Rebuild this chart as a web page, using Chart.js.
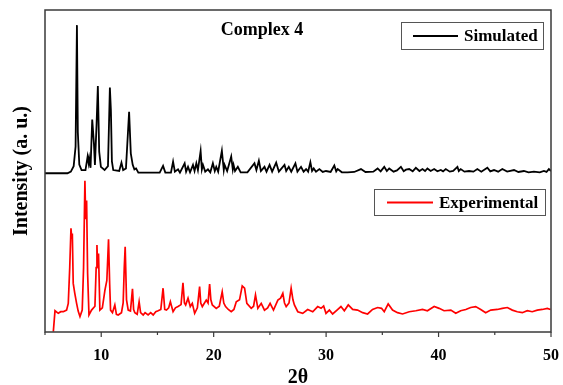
<!DOCTYPE html>
<html>
<head>
<meta charset="utf-8">
<script src="https://cdn.jsdelivr.net/npm/chart.js@4"></script>
<style>
  html, body { margin: 0; padding: 0; background: #ffffff; }
  #wrap { width: 563px; height: 385px; }
</style>
</head>
<body>
<div id="wrap"><canvas id="c" width="563" height="385"></canvas></div>
<script>
// ---- data (2θ, intensity in arbitrary units) ----
const simTwoTheta = [5.0,7.0,7.3,7.55,7.72,7.84,7.92,8.05,8.25,8.6,8.79,8.88,8.93,9.05,9.2,9.35,9.44,9.59,9.7,9.82,9.97,10.3,10.6,10.77,10.86,10.95,11.07,11.6,11.8,11.95,12.2,12.48,12.63,12.8,12.95,13.1,13.3,15.2,15.5,15.7,16.2,16.39,16.55,16.83,17.0,17.42,17.55,17.72,17.9,18.16,18.3,18.46,18.6,18.84,18.95,19.05,19.25,19.49,19.7,19.93,20.1,20.23,20.4,20.73,20.9,20.97,21.2,21.56,21.7,21.77,21.9,22.15,22.4,23.0,23.63,23.8,24.02,24.2,24.52,24.7,24.97,25.2,25.56,25.8,26.3,26.45,26.68,26.9,27.27,27.45,27.77,28.0,28.22,28.4,28.6,28.75,28.9,29.1,29.4,29.7,29.99,30.4,30.73,30.9,31.03,31.4,31.91,32.5,33.1,33.5,34.2,34.58,34.85,35.17,35.4,35.61,36.0,36.3,36.65,36.9,37.1,37.39,37.7,37.98,38.3,38.57,38.8,39.01,39.3,39.61,39.9,40.2,40.4,40.64,41.0,41.3,41.68,41.8,41.97,42.3,42.71,43.1,43.45,43.8,44.34,44.6,44.93,45.3,45.67,46.1,46.71,47.1,47.59,48.0,48.48,49.0,49.37,49.6,49.81,50.0];
const simIntensity = [49.3,49.3,49.8,51.5,57.6,95.3,62,52,50.3,50.3,54.5,52.5,53.9,51,66,58.6,51.9,64.8,76.4,56,51.3,50.3,51.5,75.9,68.9,53,50.3,50.0,52.6,50.3,50.8,68.4,55.5,51.9,50.5,50.8,49.5,49.5,51.6,49.5,49.5,52.9,49.8,50.5,49.5,52.4,49.8,51.3,49.6,51.9,50.0,52.4,50.3,56.2,50.5,51.9,49.8,50.5,49.6,52.4,50.0,51.3,49.8,56.3,50.3,51.9,50.0,54.5,50.5,51.9,50.0,51.3,49.6,49.6,52.4,50.3,53.2,50.0,51.3,49.8,51.9,49.8,52.6,49.8,51.9,50.0,51.3,49.8,52.4,49.8,51.3,49.8,50.6,49.8,52.7,50.0,50.8,49.8,50.6,49.7,50.0,49.7,51.7,49.9,50.6,49.6,49.6,49.7,50.6,49.7,49.8,50.8,49.9,51.3,50.0,50.8,49.8,50.2,51.3,49.9,50.4,50.6,49.9,51.0,50.0,50.6,50.0,50.8,50.0,50.6,49.9,50.3,49.9,50.6,49.8,50.0,51.3,50.0,50.6,49.8,50.0,49.8,50.6,49.8,51.0,49.9,50.3,49.8,50.6,49.8,50.3,49.7,50.0,49.6,49.8,49.6,50.0,49.7,50.6,50.0];

const expTwoTheta = [5.74,5.89,6.18,6.4,6.63,6.92,7.07,7.2,7.31,7.38,7.43,7.51,7.65,7.81,7.95,8.11,8.31,8.43,8.55,8.62,8.70,8.79,8.91,9.14,9.44,9.55,9.62,9.68,9.76,9.88,10.1,10.33,10.5,10.65,10.75,10.83,11.0,11.21,11.35,11.51,11.8,11.95,12.05,12.13,12.25,12.40,12.6,12.78,12.88,12.99,13.2,13.37,13.5,13.73,13.9,14.17,14.4,14.62,14.85,15.06,15.3,15.50,15.65,15.80,16.0,16.15,16.39,16.6,16.83,17.1,17.27,17.4,17.51,17.72,17.92,18.10,18.31,18.55,18.75,18.85,18.99,19.34,19.5,19.64,19.75,19.88,20.23,20.5,20.76,20.9,21.06,21.3,21.56,21.8,22.01,22.3,22.54,22.75,22.95,23.34,23.55,23.72,23.93,24.23,24.52,24.8,25.02,25.32,25.71,25.95,26.15,26.3,26.45,26.7,26.89,27.05,27.18,27.48,27.92,28.36,28.81,29.25,29.55,29.78,29.99,30.29,30.58,30.97,31.32,31.62,31.97,32.36,32.80,33.25,33.69,34.13,34.58,34.93,35.17,35.52,35.91,36.35,36.80,37.39,37.98,38.57,39.01,39.61,40.05,40.49,41.09,41.53,41.97,42.42,42.86,43.30,43.75,44.19,44.64,45.23,45.67,46.12,46.56,47.00,47.45,47.89,48.33,48.78,49.22,49.67,49.96];
const expIntensity = [0.1,6.6,5.8,6.3,6.3,6.8,8.9,20,32.2,29,30.6,15.1,12,8.9,6.5,4.8,6.8,20,47.0,35,40.8,18.2,5.3,6.8,8.0,20,27.0,20,24.4,6.8,7.5,13.0,16,28.8,15,6.8,6.0,8.4,5.5,5.3,6.0,9,20,26.5,10,6.8,6.5,13.4,7,6.0,5.5,9.4,6,5.3,6,5.3,6.0,5.3,6.3,6.6,7,13.6,7,6.8,7.5,9.4,6.3,7.5,7.9,8.5,15.3,9,8.4,10.5,7.9,8.9,5.8,7.5,14.1,9,7.9,9.9,9,14.9,10,8.4,7.35,8,12.5,9,7.9,7,6.3,7,9.4,10,14.3,13.6,8.9,7.35,8,11.5,7.35,8.9,6.8,7.5,8.9,6.8,9.9,10.5,12.0,9,7.9,9,13.6,10,8.4,6.3,5.8,7.0,6.3,7.9,7.35,8.1,5.8,6.8,5.6,6.8,7.9,6.6,8.4,7.0,6.8,6.0,5.6,7.0,7.6,7.35,6.3,8.7,6.8,6.0,5.6,6.3,6.6,7.0,6.6,7.9,7.35,6.6,6.8,5.8,6.6,7.0,7.6,7.9,7.0,6.0,6.8,7.0,7.35,7.6,6.8,6.3,6.0,6.6,6.3,6.8,7.0,7.35,7.0];

const xTickValues = [10, 20, 30, 40, 50];
const chartTitle = 'Complex 4';
const seriesNames = ['Simulated', 'Experimental'];
const seriesColors = ['#000000', '#ff0000'];

const toPoints = (xs, ys) => xs.map((x, i) => ({ x: x, y: ys[i] }));
const SERIF = '"Liberation Serif", "Times New Roman", serif';

const decor = {
  id: 'decor',
  afterDraw(chart) {
    const ctx = chart.ctx;
    const a = chart.chartArea;
    const xs = chart.scales.x;
    ctx.save();
    ctx.strokeStyle = '#3a3a3a';
    ctx.lineWidth = 1.5;
    ctx.strokeRect(a.left, a.top, a.right - a.left, a.bottom - a.top);
    ctx.lineWidth = 1.2;
    xs.ticks.forEach(t => {
      const px = xs.getPixelForValue(t.value);
      const len = xTickValues.includes(t.value) ? 5 : 3;
      ctx.beginPath();
      ctx.moveTo(px, a.bottom);
      ctx.lineTo(px, a.bottom + len);
      ctx.stroke();
    });
    ctx.fillStyle = '#000';
    ctx.font = 'bold 18px ' + SERIF;
    ctx.textAlign = 'center';
    ctx.textBaseline = 'middle';
    ctx.fillText(chartTitle, 262, 30);
    const boxes = [
      { name: seriesNames[0], color: seriesColors[0], x0: 401, y0: 22, x1: 543, y1: 49, l0: 413, l1: 458, tx: 464 },
      { name: seriesNames[1], color: seriesColors[1], x0: 374, y0: 189, x1: 545, y1: 215, l0: 387, l1: 433, tx: 439 }
    ];
    boxes.forEach(b => {
      ctx.strokeStyle = '#555';
      ctx.lineWidth = 1;
      ctx.strokeRect(b.x0 + 0.5, b.y0 + 0.5, b.x1 - b.x0, b.y1 - b.y0);
      const cy = (b.y0 + b.y1) / 2 + 0.5;
      ctx.strokeStyle = b.color;
      ctx.lineWidth = 1.8;
      ctx.beginPath();
      ctx.moveTo(b.l0, cy);
      ctx.lineTo(b.l1, cy);
      ctx.stroke();
      ctx.fillStyle = '#000';
      ctx.font = 'bold 17px ' + SERIF;
      ctx.textAlign = 'left';
      ctx.textBaseline = 'middle';
      ctx.fillText(b.name, b.tx, cy + 1);
    });
    ctx.restore();
  }
};

new Chart(document.getElementById('c'), {
  type: 'line',
  data: {
    datasets: [
      { label: seriesNames[0], data: toPoints(simTwoTheta, simIntensity), borderColor: seriesColors[0], borderWidth: 1.8, pointRadius: 0, tension: 0, fill: false },
      { label: seriesNames[1], data: toPoints(expTwoTheta, expIntensity), borderColor: seriesColors[1], borderWidth: 1.7, pointRadius: 0, tension: 0, fill: false }
    ]
  },
  options: {
    responsive: false,
    animation: false,
    devicePixelRatio: 1,
    layout: { padding: { top: 10, right: 12, left: 0, bottom: 0 } },
    plugins: { legend: { display: false }, tooltip: { enabled: false }, title: { display: false } },
    scales: {
      x: {
        type: 'linear', min: 5, max: 50,
        grid: { display: false },
        border: { display: false },
        ticks: {
          stepSize: 5, autoSkip: false, maxRotation: 0, padding: 6, color: '#000',
          font: { family: SERIF, size: 16, weight: 'bold' },
          callback: v => (xTickValues.includes(v) ? String(v) : '')
        },
        title: { display: true, text: '2θ', color: '#000', font: { family: SERIF, size: 20, weight: 'bold', lineHeight: 0.7 }, padding: { top: 0, bottom: 0 } },
        afterFit: s => { s.height = 53; s.paddingLeft = 0; s.paddingRight = 0; }
      },
      y: {
        min: 0, max: 100,
        grid: { display: false },
        border: { display: false },
        ticks: { display: false },
        title: { display: true, text: 'Intensity (a. u.)', color: '#000', font: { family: SERIF, size: 20, weight: 'bold', lineHeight: 1.2 }, padding: { top: 10, bottom: 0 } },
        afterFit: s => { s.width = 45; }
      }
    }
  },
  plugins: [decor]
});
</script>
</body>
</html>
